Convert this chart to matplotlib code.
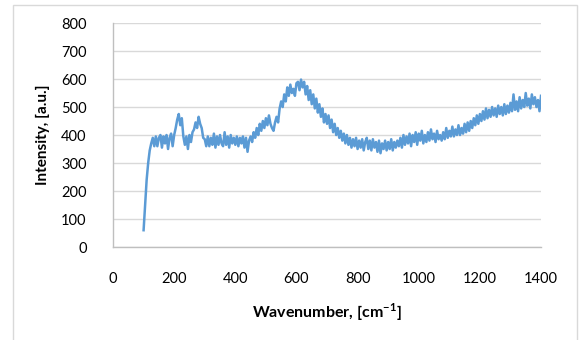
import numpy as np
import matplotlib
matplotlib.use("Agg")
import matplotlib.pyplot as plt
from matplotlib.patches import Rectangle

plt.rcParams["font.family"] = ["Lato", "DejaVu Sans"]
plt.rcParams["mathtext.fontset"] = "custom"
plt.rcParams["mathtext.rm"] = "Lato"
plt.rcParams["mathtext.bf"] = "Lato:bold"

# Raman-like spectrum, one value every 5 cm-1 from 100
intensity = [
    60, 150, 240, 300, 345, 370, 390, 360, 395, 360,   # 100-145
    390, 400, 355, 395, 370, 400, 350, 390, 405, 360,  # 150-195
    400, 425, 455, 475, 435, 460, 395, 365, 395, 350,  # 200-245
    400, 375, 410, 420, 445, 425, 465, 440, 425, 390,  # 250-295
    385, 360, 395, 360, 390, 365, 405, 355, 395, 365,  # 300-345
    400, 370, 360, 410, 365, 395, 355, 400, 370, 390,  # 350-395
    365, 395, 360, 390, 370, 395, 355, 390, 340, 380,  # 400-445
    395, 375, 410, 390, 425, 400, 440, 415, 450, 425,  # 450-495
    460, 435, 470, 440, 425, 415, 445, 465, 445, 495,  # 500-545
    520, 500, 545, 520, 570, 540, 580, 550, 565, 540,  # 550-595
    585, 590, 560, 598, 570, 590, 545, 575, 525, 560,  # 600-645
    510, 545, 495, 530, 480, 510, 465, 495, 445, 475,  # 650-695
    440, 470, 425, 455, 410, 440, 400, 425, 390, 415,  # 700-745
    380, 405, 370, 400, 365, 390, 355, 385, 360, 390,  # 750-795
    350, 380, 355, 385, 345, 375, 390, 350, 380, 345,  # 800-845
    385, 355, 375, 340, 380, 335, 370, 350, 380, 345,  # 850-895
    375, 350, 385, 345, 375, 355, 380, 360, 390, 355,  # 900-945
    400, 365, 395, 370, 405, 360, 400, 375, 410, 365,  # 950-995
    405, 380, 415, 370, 400, 375, 410, 380, 420, 385,  # 1000-1045
    405, 375, 415, 385, 400, 380, 410, 385, 425, 390,  # 1050-1095
    415, 395, 430, 395, 420, 400, 435, 400, 425, 405,  # 1100-1145
    440, 410, 445, 415, 450, 425, 460, 435, 470, 440,  # 1150-1195
    475, 450, 485, 455, 495, 460, 490, 465, 500, 470,  # 1200-1245
    495, 465, 505, 475, 500, 470, 510, 475, 505, 480,  # 1250-1295
    515, 485, 545, 490, 520, 485, 535, 495, 525, 500,  # 1300-1345
    550, 505, 530, 495, 545, 510, 535, 500, 525, 485,  # 1350-1395
    540,                                               # 1400
]
wavenumber = 100 + 5 * np.arange(len(intensity))

x_ticks = [0, 200, 400, 600, 800, 1000, 1200, 1400]
y_ticks = [0, 100, 200, 300, 400, 500, 600, 700, 800]

fig = plt.figure(figsize=(5.79, 3.40), dpi=100)
ax = fig.add_axes([0.1952, 0.2735, 0.7392, 0.6588])

# outer chart frame like the spreadsheet chart area
fig.patches.append(Rectangle((13 / 579, -0.05), 564 / 579, 1.05 - 5 / 340,
                             transform=fig.transFigure, fill=False,
                             edgecolor="#d9d9d9", linewidth=1.0))

ax.plot(wavenumber, intensity, color="#5b9bd5", linewidth=1.8)

ax.set_xlim(0, 1400)
ax.set_ylim(0, 800)
ax.set_xticks(x_ticks)
ax.set_yticks(y_ticks)
ax.grid(axis="y", color="#d9d9d9", linewidth=1.0)
ax.set_axisbelow(True)
for side in ["top", "right"]:
    ax.spines[side].set_visible(False)
for side in ["left", "bottom"]:
    ax.spines[side].set_color("#bfbfbf")
    ax.spines[side].set_linewidth(1.0)
ax.tick_params(axis="both", length=0, labelsize=10.5, labelcolor="#000000")
ax.tick_params(axis="y", pad=19)
ax.tick_params(axis="x", pad=18)

ax.set_xlabel(r"Wavenumber, [cm$^{\mathbf{-1}}$]", fontsize=11.5, fontweight="bold", labelpad=11)
ax.set_ylabel("Intensity, [a.u.]", fontsize=11, fontweight="bold", labelpad=8)

fig.savefig("out.png", dpi=100)
